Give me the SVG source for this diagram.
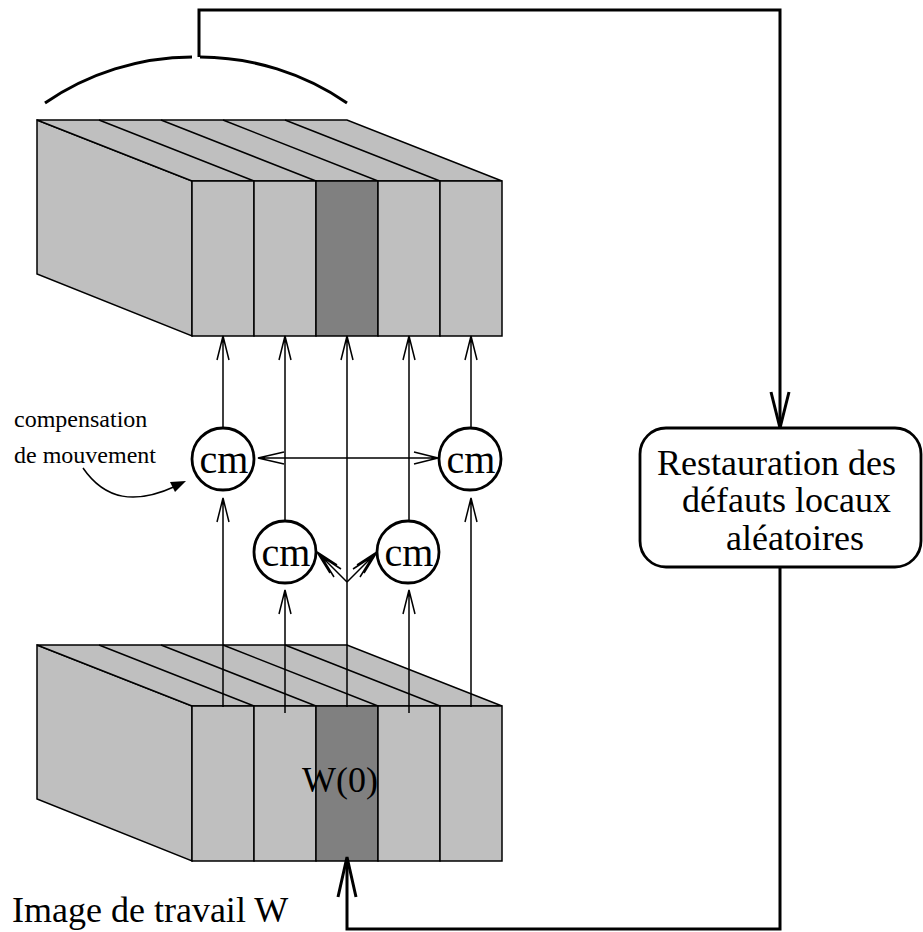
<svg xmlns="http://www.w3.org/2000/svg" width="923" height="932" viewBox="0 0 923 932">
  <style>
    .face { fill: #bfbfbf; stroke: #000; stroke-width: 1.5; stroke-linejoin: miter; }
    .dark { fill: #808080; stroke: #000; stroke-width: 1.5; }
    .edge { fill: none; stroke: #000; stroke-width: 1.5; }
    .thin { fill: none; stroke: #000; stroke-width: 1.5; }
    .thick { fill: none; stroke: #000; stroke-width: 3; }
    .node { fill: #fff; stroke: #000; stroke-width: 2.8; }
    .txt { font-family: "Liberation Serif", "Times New Roman", serif; fill: #000; }
    .big { font-size: 36px; }
    .cm { font-size: 40px; text-anchor: middle; }
    .small { font-size: 24px; }
  </style>
  <defs>
    <!-- block of five strips in oblique view; top-left of back face at (0,0) -->
    <g id="stack">
      <polygon class="face" points="37,0 192,61 192,216 37,154"/>
      <polygon class="face" points="37,0 347,0 502,61 192,61"/>
      <path class="edge" d="M99,0 L254,61 M161,0 L316,61 M223,0 L378,61 M285,0 L440,61"/>
      <rect class="face" x="192" y="61" width="62" height="155"/>
      <rect class="face" x="254" y="61" width="62" height="155"/>
      <rect class="dark" x="316" y="61" width="62" height="155"/>
      <rect class="face" x="378" y="61" width="62" height="155"/>
      <rect class="face" x="440" y="61" width="62" height="155"/>
    </g>
  </defs>

  <!-- result sequence -->
  <g id="sequence-top">
    <use href="#stack" x="0" y="120"/>
    <path class="thick" d="M45,103 A261.5,261.5 0 0 1 192,57 M200,57 A261.5,261.5 0 0 1 347,103"/>
  </g>

  <!-- working image -->
  <g id="sequence-bottom">
    <use href="#stack" x="0" y="645"/>
    <text class="txt big" x="302" y="792">W(0)</text>
  </g>

  <g id="cm-left">
    <circle class="node" cx="223" cy="459" r="31"/>
    <text class="txt cm" x="224" y="473">cm</text>
  </g>
  <g id="cm-right">
    <circle class="node" cx="470" cy="459" r="31"/>
    <text class="txt cm" x="471" y="473">cm</text>
  </g>
  <g id="cm-inner-left">
    <circle class="node" cx="285" cy="552" r="31"/>
    <text class="txt cm" x="286" y="566">cm</text>
  </g>
  <g id="cm-inner-right">
    <circle class="node" cx="408" cy="552" r="31"/>
    <text class="txt cm" x="409" y="566">cm</text>
  </g>

  <g id="restoration">
    <rect class="node" x="640" y="428" width="281" height="139" rx="26" ry="26"/>
    <text class="txt big" x="657" y="475">Restauration des</text>
    <text class="txt big" x="682" y="512">défauts locaux</text>
    <text class="txt big" x="726" y="550">aléatoires</text>
  </g>

  <g id="labels">
    <text class="txt small" x="14" y="427">compensation</text>
    <text class="txt small" x="14" y="463">de mouvement</text>
    <text class="txt big" x="12" y="922">Image de travail W</text>
  </g>

  <g id="connectors">
    <!-- column 1 -->
    <path class="thin" d="M223,707 V498 M217,522 L223,498 L229,522"/>
    <path class="thin" d="M223,428 V336 M217,360 L223,336 L229,360"/>
    <!-- column 2 -->
    <path class="thin" d="M285,713 V590 M279,614 L285,590 L291,614"/>
    <path class="thin" d="M285,521 V336 M279,360 L285,336 L291,360"/>
    <!-- column 3 -->
    <path class="thin" d="M347,707 V336 M341,360 L347,336 L353,360"/>
    <!-- column 4 -->
    <path class="thin" d="M409,713 V590 M403,614 L409,590 L415,614"/>
    <path class="thin" d="M409,521 V336 M403,360 L409,336 L415,360"/>
    <!-- column 5 -->
    <path class="thin" d="M471,707 V498 M465,522 L471,498 L477,522"/>
    <path class="thin" d="M471,428 V336 M465,360 L471,336 L477,360"/>
    <!-- horizontal link between outer compensations -->
    <path class="thin" d="M258,458 H438 M284,452 L258,458 L284,464 M414,452 L438,458 L414,464"/>
    <!-- diagonal links to inner compensations (double heads) -->
    <path class="thin" d="M347,582 L317,552 M337,565 L317,552 L330,573 M341,569 L321,556 L334,577"/>
    <path class="thin" d="M347,582 L377,552 M357,565 L377,552 L364,573 M353,569 L373,556 L360,577"/>
    <!-- annotation pointer -->
    <path class="thin" d="M83,468 C105,500 135,505 176,486"/>
    <polygon points="186,481 170,482 175,492" fill="#000"/>
    <!-- feedback loop -->
    <path class="thick" d="M199,57 V10 H780 V428"/>
    <path class="thick" d="M771,392 L780,428 L789,392"/>
    <path class="thick" d="M780,567 V929 H347 V859"/>
    <path class="thick" d="M338,897 L347,857 L356,897"/>
  </g>
</svg>
